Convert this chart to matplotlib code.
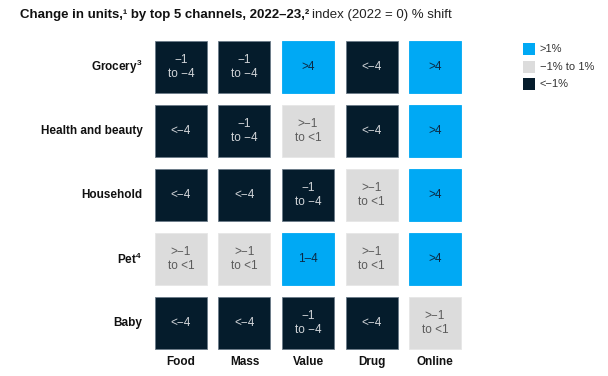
import matplotlib.pyplot as plt
import matplotlib.patches as mpatches

plt.rcParams['font.family'] = ['Liberation Sans', 'DejaVu Sans']
plt.rcParams['mathtext.fontset'] = 'custom'
plt.rcParams['mathtext.rm'] = 'Liberation Sans'

ROWS = ['Grocery$^{\\mathregular{3}}$', 'Health and beauty', 'Household',
        'Pet$^{\\mathregular{4}}$', 'Baby']
COLS = ['Food', 'Mass', 'Value', 'Drug', 'Online']

# shift bucket per (row, col)
CELLS = [
    ['−1\nto −4', '−1\nto −4', '>4', '<−4', '>4'],
    ['<−4', '−1\nto −4', '>−1\nto <1', '<−4', '>4'],
    ['<−4', '<−4', '−1\nto −4', '>−1\nto <1', '>4'],
    ['>−1\nto <1', '>−1\nto <1', '1–4', '>−1\nto <1', '>4'],
    ['<−4', '<−4', '−1\nto −4', '<−4', '>−1\nto <1'],
]

LEGEND = ['>1%', '−1% to 1%', '<−1%']

BLUE = '#00A9F4'
GREY = '#DCDCDC'
NAVY = '#051C2C'

# label -> (fill, text color, edge)
STYLE = {
    '>4': (BLUE, '#0B2A45', BLUE),
    '1–4': (BLUE, '#0B2A45', BLUE),
    '>−1\nto <1': (GREY, '#5A5A5A', '#E6E6E6'),
    '−1\nto −4': (NAVY, '#D2D5D9', '#6B7B88'),
    '<−4': (NAVY, '#D2D5D9', '#6B7B88'),
}

W, H = 608, 376
fig = plt.figure(figsize=(W / 100, H / 100), dpi=100)

# grid axes in pixel placement: cells 52px, pitch 63.5 x 64
left, top = 155, 41
ax = fig.add_axes([left / W, 1 - (top + 320) / H, 317.5 / W, 320 / H])
ax.set_xlim(0, 5)
ax.set_ylim(5, 0)
ax.axis('off')

cw, ch = 52 / 63.5, 52 / 64
for r, row in enumerate(CELLS):
    for c, lab in enumerate(row):
        fill, tcol, edge = STYLE[lab]
        ax.add_patch(mpatches.Rectangle((c, r), cw, ch, facecolor=fill,
                                        edgecolor=edge, linewidth=0.6))
        ax.text(c + cw / 2, r + ch / 2, lab, ha='center', va='center',
                fontsize=8.5, color=tcol, linespacing=1.15)

for r, name in enumerate(ROWS):
    ax.text(-0.2, r + ch / 2, name, ha='right', va='center', fontsize=8.5,
            fontweight='bold', color='#111111', clip_on=False)

for c, name in enumerate(COLS):
    ax.text(c + cw / 2, 5.02, name, ha='center', va='center', fontsize=8.5,
            fontweight='bold', color='#111111', clip_on=False)

# legend
leg_colors = [BLUE, GREY, NAVY]
for i, (lab, col) in enumerate(zip(LEGEND, leg_colors)):
    yc = 49 + i * 17.5
    fig.patches.append(mpatches.Rectangle((523 / W, 1 - (yc + 6) / H), 12 / W, 12 / H,
                                          transform=fig.transFigure,
                                          facecolor=col, edgecolor='none'))
    fig.text(540 / W, 1 - yc / H, lab, ha='left', va='center', fontsize=8,
             color='#333333')

# title: bold part then regular part
t1 = fig.text(20 / W, 1 - 15 / H, 'Change in units,¹ by top 5 channels, 2022–23,²',
              ha='left', va='center', fontsize=9.5, fontweight='bold', color='#111111')
fig.canvas.draw()
bb = t1.get_window_extent()
fig.text(bb.x1 / W + 3 / W, 1 - 15 / H, 'index (2022 = 0) % shift', ha='left', va='center',
         fontsize=9.5, color='#222222')

fig.savefig('out.png', dpi=100)
